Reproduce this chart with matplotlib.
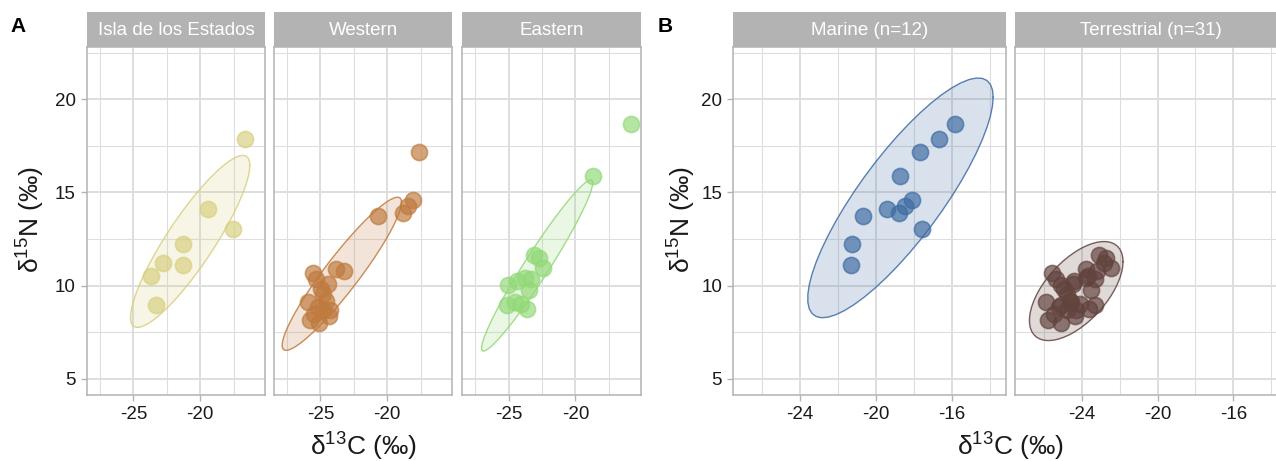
import numpy as np
import matplotlib
matplotlib.use("Agg")
import matplotlib.pyplot as plt
from matplotlib.ticker import FixedLocator

plt.rcParams['font.family'] = ['Liberation Sans', 'DejaVu Sans']
plt.rcParams['mathtext.fontset'] = 'custom'
plt.rcParams['mathtext.rm'] = 'Liberation Sans'
plt.rcParams['mathtext.it'] = 'Liberation Sans:italic'
plt.rcParams['mathtext.bf'] = 'Liberation Sans:bold'

# ---- stable isotope values (one entry per specimen) ----
d13c = [
    # Isla de los Estados
    -16.65, -19.40, -17.58, -21.28, -21.30, -22.82, -23.65, -23.32,
    # Western
    -17.65, -18.07, -18.44, -18.80, -20.70,
    -25.55, -25.35, -23.80, -23.20, -24.45, -24.95, -24.80, -25.90,
    -24.60, -25.20, -25.80, -25.10, -24.35, -25.45, -24.80, -24.30,
    # Eastern
    -15.85, -18.72,
    -23.07, -22.70, -22.45, -25.08, -24.40, -23.75, -23.30, -23.50,
    -25.10, -24.55, -24.10, -23.60,
]
d15n = [
    17.86, 14.13, 13.02, 12.23, 11.10, 11.23, 10.50, 8.94,
    17.15, 14.62, 14.26, 13.91, 13.72,
    10.66, 10.35, 10.92, 10.80, 10.10, 9.85, 9.55, 9.13,
    9.20, 8.85, 8.15, 7.98, 8.35, 8.50, 8.70, 8.70,
    18.67, 15.86,
    11.64, 11.50, 10.95, 10.03, 10.25, 10.40, 10.35, 9.75,
    8.95, 9.10, 9.00, 8.75,
]
region = (["Isla de los Estados"] * 8 + ["Western"] * 21 + ["Eastern"] * 14)
habitat = (["Marine"] * 5 + ["Terrestrial"] * 3
           + ["Marine"] * 5 + ["Terrestrial"] * 16
           + ["Marine"] * 2 + ["Terrestrial"] * 12)

regions = ["Isla de los Estados", "Western", "Eastern"]
habitats = ["Marine", "Terrestrial"]
region_colors = {"Isla de los Estados": "#D8CF7F",
                 "Western": "#BF7A3E",
                 "Eastern": "#92D978"}
habitat_colors = {"Marine": "#3E6BA3", "Terrestrial": "#62433E"}
region_level = 0.70
habitat_level = 0.95

x_all = np.array(d13c)
y_all = np.array(d15n)
region = np.array(region)
habitat = np.array(habitat)


def norm_ellipse(x, y, level, segments=51):
    """Normal-theory confidence ellipse (F-distribution radius)."""
    pts = np.column_stack([x, y])
    n = len(pts)
    center = pts.mean(axis=0)
    shape = np.cov(pts.T)
    dfd = n - 1
    fq = dfd / 2.0 * ((1 - level) ** (-2.0 / dfd) - 1.0)  # F(2, dfd) quantile
    radius = np.sqrt(2 * fq)
    ang = np.arange(segments + 1) * 2 * np.pi / segments
    circle = np.column_stack([np.cos(ang), np.sin(ang)])
    R = np.linalg.cholesky(shape).T
    e = center + radius * circle @ R
    return e[:, 0], e[:, 1]


W, H = 1276, 461
fig = plt.figure(figsize=(W / 100, H / 100), dpi=100)

GREY70 = "#B3B3B3"
GRID = "#DEDEDE"
YLIM = (4.14, 22.8)
ax_bottom = 1 - 395 / H
ax_h = (395 - 47) / H
strip_h = 35 / H


def style_axes(ax, xmaj, xmin, xlim, show_y):
    ax.set_xlim(*xlim)
    ax.set_ylim(*YLIM)
    ax.xaxis.set_major_locator(FixedLocator(xmaj))
    ax.xaxis.set_minor_locator(FixedLocator(xmin))
    ax.yaxis.set_major_locator(FixedLocator([5, 10, 15, 20]))
    ax.yaxis.set_minor_locator(FixedLocator([7.5, 12.5, 17.5, 22.5]))
    ax.grid(which="major", color=GRID, lw=1.4, zorder=0)
    ax.grid(which="minor", color=GRID, lw=0.8, zorder=0)
    ax.set_axisbelow(True)
    for sp in ax.spines.values():
        sp.set_color(GREY70)
        sp.set_linewidth(1.1)
    ax.tick_params(which="major", direction="out", length=4, width=1,
                   color=GREY70, labelsize=13.5, labelcolor="#1A1A1A", pad=4)
    ax.tick_params(which="minor", length=0)
    ax.set_xticklabels([str(v) for v in xmaj])
    if show_y:
        ax.set_yticklabels(["5", "10", "15", "20"])
    else:
        ax.tick_params(axis="y", which="both", left=False, labelleft=False)


def add_strip(left, width, label):
    sax = fig.add_axes([left, ax_bottom + ax_h, width, strip_h])
    sax.set_facecolor(GREY70)
    sax.set_xticks([])
    sax.set_yticks([])
    for sp in sax.spines.values():
        sp.set_visible(False)
    sax.text(0.5, 0.47, label, color="white", fontsize=13.5,
             ha="center", va="center", transform=sax.transAxes)


def draw_group(ax, xs, ys, color, level):
    ex, ey = norm_ellipse(xs, ys, level)
    ax.fill(ex, ey, facecolor=color, alpha=0.2, edgecolor="none", zorder=2)
    ax.plot(ex, ey, color=color, lw=1.0, alpha=0.85, zorder=3)
    ax.scatter(xs, ys, s=135, color=color, alpha=0.68, edgecolors=color,
               linewidths=1.2, zorder=4)


# ---- panel A: by region ----
a_lefts = [87, 274, 462.3]
a_w = 178.4
for i, reg in enumerate(regions):
    left = a_lefts[i] / W
    ax = fig.add_axes([left, ax_bottom, a_w / W, ax_h])
    m = region == reg
    draw_group(ax, x_all[m], y_all[m], region_colors[reg], region_level)
    style_axes(ax, [-25, -20], [-27.5, -22.5, -17.5], (-28.47, -15.12), i == 0)
    add_strip(left, a_w / W, reg)

# ---- panel B: by habitat ----
b_lefts = [733.3, 1015]
b_w = 272.4
for i, hab in enumerate(habitats):
    left = b_lefts[i] / W
    ax = fig.add_axes([left, ax_bottom, b_w / W, ax_h])
    m = habitat == hab
    draw_group(ax, x_all[m], y_all[m], habitat_colors[hab], habitat_level)
    style_axes(ax, [-24, -20, -16], [-26, -22, -18, -14], (-27.52, -13.15), i == 0)
    add_strip(left, b_w / W, f"{hab} (n={m.sum()})")

xlab = "δ$^{13}$C (‰)"
ylab = "δ$^{15}$N (‰)"
fig.text(363.8 / W, 0.011, xlab, fontsize=19, ha="center", va="baseline", color="#1A1A1A")
fig.text(1010 / W, 0.011, xlab, fontsize=19, ha="center", va="baseline", color="#1A1A1A")
fig.text(31 / W, 1 - 220 / H, ylab, fontsize=19, rotation=90, ha="center", va="center", color="#1A1A1A")
fig.text(682 / W, 1 - 220 / H, ylab, fontsize=19, rotation=90, ha="center", va="center", color="#1A1A1A")
fig.text(10 / W, 1 - 32 / H, "A", fontsize=15, fontweight="bold", ha="left", va="baseline")
fig.text(658 / W, 1 - 32 / H, "B", fontsize=15, fontweight="bold", ha="left", va="baseline")

fig.savefig("out.png", dpi=100)
